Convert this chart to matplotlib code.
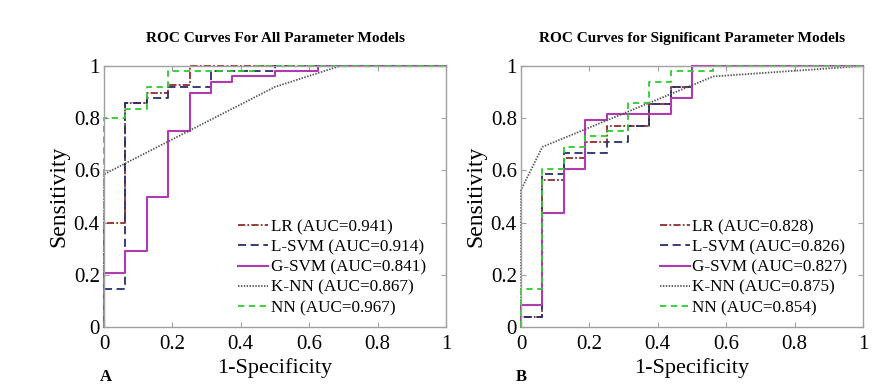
import matplotlib
matplotlib.use("Agg")
import matplotlib.pyplot as plt

# ---------------- data ----------------
titles = ["ROC Curves For All Parameter Models", "ROC Curves for Significant Parameter Models"]
panel_tags = ["A", "B"]
model_names = ["LR", "L-SVM", "G-SVM", "K-NN", "NN"]

auc_a = [0.941, 0.914, 0.841, 0.867, 0.967]
auc_b = [0.828, 0.826, 0.827, 0.875, 0.854]

# Panel A ROC vertices
lr_a_fpr = [0, 0, 0.0625, 0.0625, 0.125, 0.125, 0.1875, 0.1875, 0.25, 0.25, 1]
lr_a_tpr = [0, 0.4, 0.4, 0.857, 0.857, 0.898, 0.898, 0.927, 0.927, 1, 1]
lsvm_a_fpr = [0, 0, 0.0625, 0.0625, 0.125, 0.125, 0.1875, 0.1875, 0.3125, 0.3125, 0.5, 0.5, 1]
lsvm_a_tpr = [0, 0.146, 0.146, 0.857, 0.857, 0.876, 0.876, 0.92, 0.92, 0.98, 0.98, 1, 1]
gsvm_a_fpr = [0, 0, 0.0625, 0.0625, 0.125, 0.125, 0.1875, 0.1875, 0.25, 0.25, 0.3125, 0.3125,
              0.375, 0.375, 0.5, 0.5, 0.625, 0.625, 1]
gsvm_a_tpr = [0, 0.208, 0.208, 0.292, 0.292, 0.5, 0.5, 0.751, 0.751, 0.898, 0.898, 0.94,
              0.94, 0.962, 0.962, 0.98, 0.98, 1, 1]
knn_a_fpr = [0, 0, 0.5, 0.69, 1]
knn_a_tpr = [0, 0.585, 0.92, 1, 1]
nn_a_fpr = [0, 0, 0.0625, 0.0625, 0.125, 0.125, 0.1875, 0.1875, 0.4375, 0.4375, 1]
nn_a_tpr = [0, 0.8, 0.8, 0.834, 0.834, 0.918, 0.918, 0.98, 0.98, 1, 1]

# Panel B ROC vertices
lr_b_fpr = [0, 0, 0.0625, 0.0625, 0.125, 0.125, 0.1875, 0.1875, 0.25, 0.25, 0.375, 0.375,
            0.4375, 0.4375, 0.5, 0.5, 1]
lr_b_tpr = [0, 0.04, 0.04, 0.563, 0.563, 0.646, 0.646, 0.71, 0.71, 0.771, 0.771, 0.853,
            0.853, 0.918, 0.918, 1, 1]
lsvm_b_fpr = [0, 0, 0.0625, 0.0625, 0.125, 0.125, 0.25, 0.25, 0.3125, 0.3125, 0.375, 0.375,
              0.4375, 0.4375, 0.5, 0.5, 1]
lsvm_b_tpr = [0, 0.04, 0.04, 0.586, 0.586, 0.668, 0.668, 0.71, 0.71, 0.771, 0.771, 0.853,
              0.853, 0.918, 0.918, 1, 1]
gsvm_b_fpr = [0, 0, 0.0625, 0.0625, 0.125, 0.125, 0.1875, 0.1875, 0.25, 0.25, 0.4375, 0.4375,
              0.5, 0.5, 1]
gsvm_b_tpr = [0, 0.084, 0.084, 0.438, 0.438, 0.605, 0.605, 0.793, 0.793, 0.815, 0.815, 0.876,
              0.876, 1, 1]
knn_b_fpr = [0, 0, 0.0625, 0.5625, 1]
knn_b_tpr = [0, 0.525, 0.69, 0.96, 1]
nn_b_fpr = [0, 0, 0.0625, 0.0625, 0.125, 0.125, 0.1875, 0.1875, 0.25, 0.25, 0.3125, 0.3125,
            0.375, 0.375, 0.4375, 0.4375, 0.5625, 0.5625, 1]
nn_b_tpr = [0, 0.144, 0.144, 0.605, 0.605, 0.691, 0.691, 0.732, 0.732, 0.752, 0.752, 0.857,
            0.857, 0.937, 0.937, 0.982, 0.982, 1, 1]

ticks = [0, 0.2, 0.4, 0.6, 0.8, 1]
tick_labels = ["0", "0.2", "0.4", "0.6", "0.8", "1"]

# ---------------- style ----------------
serif = ["Liberation Serif", "DejaVu Serif"]
plt.rcParams["font.family"] = serif

styles = [
    dict(color="#8E2E2E", ls=(0, (4.0, 1.2, 1.0, 1.2)), lw=1.3),   # LR dash-dot
    dict(color="#2A2E6E", ls=(0, (4.5, 2.5)), lw=1.3),             # L-SVM dashed
    dict(color="#B03AB0", ls="-", lw=1.5),                         # G-SVM solid
    dict(color="#555555", ls=(0, (0.8, 0.8)), lw=1.3),             # K-NN dotted
    dict(color="#2ECC2E", ls=(0, (3.5, 2.5)), lw=1.3),             # NN dashed
]

fig = plt.figure(figsize=(8.92, 3.9), dpi=100)
ax_a = fig.add_axes([104 / 892, 63 / 390, 342 / 892, 261 / 390])
ax_b = fig.add_axes([521 / 892, 63 / 390, 342 / 892, 261 / 390])

panels = [
    (ax_a, [(lr_a_fpr, lr_a_tpr), (lsvm_a_fpr, lsvm_a_tpr), (gsvm_a_fpr, gsvm_a_tpr),
            (knn_a_fpr, knn_a_tpr), (nn_a_fpr, nn_a_tpr)], auc_a, 0.392),
    (ax_b, [(lr_b_fpr, lr_b_tpr), (lsvm_b_fpr, lsvm_b_tpr), (gsvm_b_fpr, gsvm_b_tpr),
            (knn_b_fpr, knn_b_tpr), (nn_b_fpr, nn_b_tpr)], auc_b, 0.406),
]

spine_col = "#A0A0A0"
for i, (ax, curves, aucs, legx) in enumerate(panels):
    for (fx, ty), name, auc, st in zip(curves, model_names, aucs, styles):
        ax.plot(fx, ty, color=st["color"], linestyle=st["ls"], linewidth=st["lw"],
                label=f"{name} (AUC={auc:.3f})", clip_on=False)
    ax.set_xlim(0, 1)
    ax.set_ylim(0, 1)
    ax.set_xticks(ticks)
    ax.set_yticks(ticks)
    ax.set_xticklabels(tick_labels)
    ax.set_yticklabels(tick_labels)
    ax.tick_params(direction="in", length=3.5, width=0.8, color=spine_col,
                   top=True, right=True, labelsize=15)
    ax.tick_params(axis="x", pad=6)
    ax.tick_params(axis="y", pad=3)
    for sp in ax.spines.values():
        sp.set_color(spine_col)
        sp.set_linewidth(1.0)
    ax.set_xlabel("1-Specificity", fontsize=16, labelpad=3)
    ax.set_ylabel("Sensitivity", fontsize=17, labelpad=3)
    ax.set_title(titles[i], fontsize=11, fontweight="bold", pad=17)
    ax.legend(loc="upper left", bbox_to_anchor=(legx, 0.414), frameon=False,
              fontsize=12.3, handlelength=1.75, handletextpad=0.15,
              labelspacing=0.25, borderpad=0, borderaxespad=0)

fig.text(100 / 892, 1 - 377 / 390, panel_tags[0], fontsize=12, fontweight="bold",
         va="center", ha="left")
fig.text(516 / 892, 1 - 377 / 390, panel_tags[1], fontsize=12, fontweight="bold",
         va="center", ha="left")

fig.savefig("out.png", dpi=100)
